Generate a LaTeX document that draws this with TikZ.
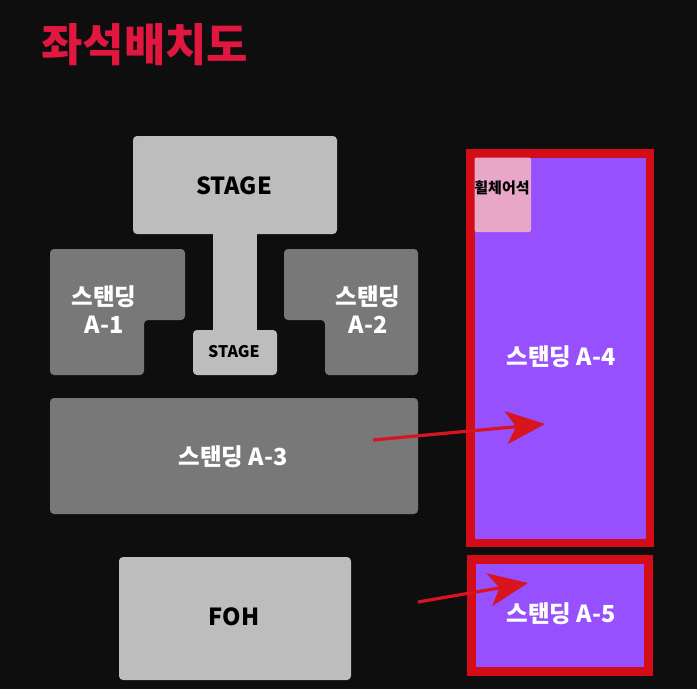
\documentclass[tikz,border=0pt]{standalone}
\usepackage{fontspec}
\setmainfont{Noto Sans CJK KR}
\usetikzlibrary{arrows.meta}
\definecolor{bgc}{HTML}{0E0E0E}
\definecolor{stagec}{HTML}{BDBDBD}
\definecolor{standc}{HTML}{787878}
\definecolor{purplec}{HTML}{9650FE}
\definecolor{redc}{HTML}{D30C17}
\definecolor{titlec}{HTML}{E2173F}
\definecolor{pinkc}{HTML}{E8A6C8}
\definecolor{arrowc}{HTML}{D8141E}
\begin{document}
\begin{tikzpicture}[x=1pt,y=-1pt,
  stagebox/.style={fill=stagec,rounded corners=4pt},
  standbox/.style={fill=standc,rounded corners=4pt},
  zonebox/.style={fill=purplec,draw=redc,line width=8.5pt},
  lbl/.style={font=\bfseries\fontsize{23.5}{26}\selectfont,text=white,align=center,inner sep=0pt},
  dlbl/.style={font=\bfseries\fontsize{23.5}{26}\selectfont,text=black,inner sep=0pt},
  redarrow/.style={draw=arrowc,line width=3.2pt,-{Stealth[length=39pt,width=33pt,inset=10pt]}}]
\fill[bgc] (0,0) rectangle (697,689);
\useasboundingbox (0,0) rectangle (697,689);
% title
\node[font=\bfseries\fontsize{45}{50}\selectfont,text=titlec,anchor=west,inner sep=0pt] (title) at (41,45) {좌석배치도};
% stage
\fill[stagec] (213,228) rectangle (257,336);
\fill[stagebox] (133,136) rectangle (337,234);
\fill[stagebox] (193,330) rectangle (277,375);
\node[dlbl] (stage1) at (234,186) {STAGE};
\node[dlbl,font=\bfseries\fontsize{16}{18}\selectfont] (stage2) at (234,352) {STAGE};
% A-1
\fill[standbox] (50,249) -- (185,249) -- (185,320) -- (144,320) -- (144,375) -- (50,375) -- cycle;
\node[lbl] (a1a) at (104,297) {스탠딩};
\node[lbl] (a1b) at (104,325) {A-1};
% A-2
\fill[standbox] (284,249) -- (418,249) -- (418,375) -- (325,375) -- (325,320) -- (284,320) -- cycle;
\node[lbl] (a2a) at (368,297) {스탠딩};
\node[lbl] (a2b) at (368,325) {A-2};
% A-3
\fill[standbox] (50,398) rectangle (418,514);
\node[lbl] (a3) at (233,457) {스탠딩 A-3};
% FOH
\fill[stagebox] (119,557) rectangle (351,680);
\node[dlbl] (foh) at (234,617) {FOH};
% A-4
\filldraw[zonebox] (470.25,153.25) rectangle (649.75,542.75);
\fill[pinkc,rounded corners=2pt] (474.5,157.5) -- (531,157.5) -- (531,232) -- (474.5,232) -- cycle;
\node[font=\bfseries\fontsize{15}{17}\selectfont,text=black,inner sep=0pt] (wheel) at (502,188) {휠체어석};
\node[lbl] (a4) at (561,357) {스탠딩 A-4};
% A-5
\filldraw[zonebox] (471.5,559.5) rectangle (648.5,671.5);
\node[lbl] (a5) at (561,614) {스탠딩 A-5};
% arrows
\coordinate (s1) at (373,440);
\coordinate (t1) at (545,424);
\coordinate (s2) at (418,602);
\coordinate (t2) at (528,583);
\draw[redarrow] (s1) -- (t1);
\draw[redarrow] (s2) -- (t2);
\end{tikzpicture}
\end{document}
